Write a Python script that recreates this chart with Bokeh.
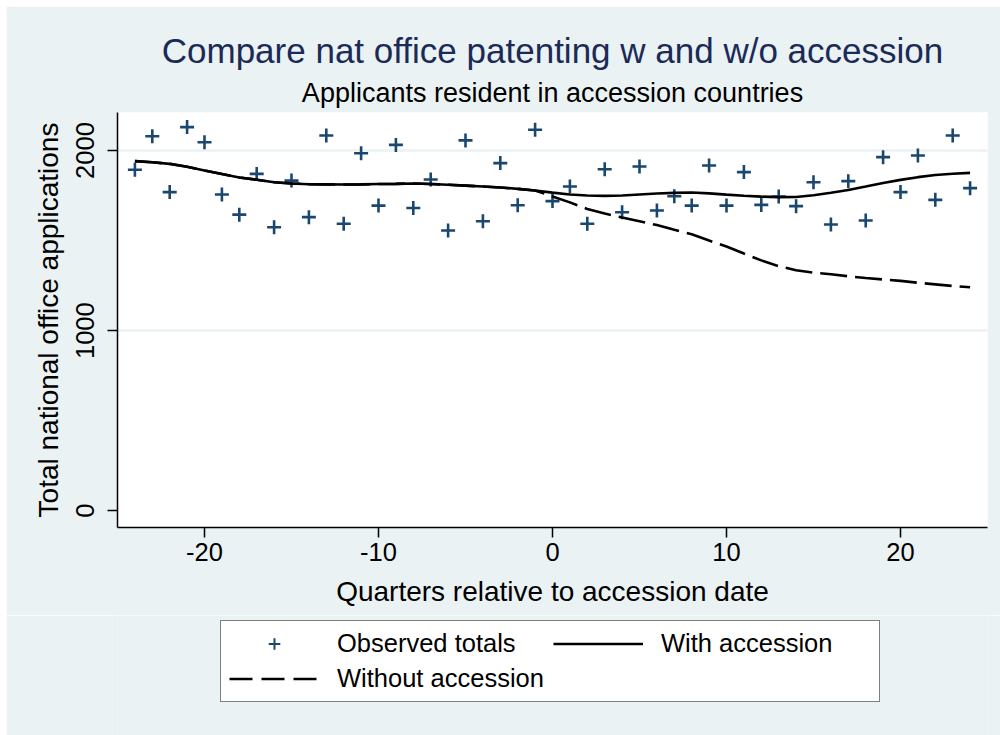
from bokeh.plotting import figure
from bokeh.models import Range1d, FixedTicker, Title, Legend, LegendItem
from bokeh.layouts import column
from bokeh.embed import file_html
from bokeh.resources import INLINE

# ---- data ----
quarters = list(range(-24, 25))
observed = [1893, 2079, 1769, 2130, 2046, 1756, 1644, 1870, 1574, 1833,
            1630, 2083, 1593, 1985, 1694, 2031, 1681, 1839, 1556, 2056,
            1607, 1930, 1696, 2115, 1719, 1800, 1593, 1896, 1657, 1911,
            1667, 1746, 1694, 1917, 1694, 1880, 1698, 1744, 1691, 1824,
            1589, 1830, 1611, 1963, 1769, 1972, 1726, 2083, 1791]
with_accession = [1941, 1935, 1926, 1910, 1889, 1870, 1850, 1838, 1824, 1817,
                  1813, 1812, 1811, 1812, 1814, 1815, 1817, 1814, 1810, 1805,
                  1800, 1795, 1787, 1778, 1766, 1756, 1750, 1748, 1750, 1756,
                  1761, 1765, 1767, 1762, 1755, 1749, 1744, 1741, 1742, 1752,
                  1765, 1781, 1800, 1820, 1837, 1852, 1864, 1871, 1876]
without_accession = [1941, 1935, 1926, 1910, 1889, 1870, 1850, 1838, 1824, 1817,
                     1813, 1812, 1811, 1812, 1814, 1815, 1817, 1814, 1810, 1805,
                     1800, 1795, 1787, 1778, 1745, 1712, 1675, 1650, 1628, 1607,
                     1586, 1560, 1535, 1500, 1467, 1428, 1390, 1358, 1335, 1322,
                     1313, 1302, 1292, 1284, 1276, 1266, 1257, 1248, 1241]
x_ticks = [-20, -10, 0, 10, 20]
x_tick_labels = ["-20", "-10", "0", "10", "20"]
y_ticks = [0, 1000, 2000]
y_tick_labels = ["0", "1000", "2000"]
grid_ticks = [1000, 2000]

title_text = "Compare nat office patenting w and w/o accession"
subtitle_text = "Applicants resident in accession countries"
x_label = "Quarters relative to accession date"
y_label = "Total national office applications"
legend_labels = ["Observed totals", "With accession", "Without accession"]

FONT = "Liberation Sans"
BG = "#EAF2F3"
NAVY = "#1A476F"

# ---------------- main plot ----------------
p = figure(frame_width=870, frame_height=415, output_backend="svg",
           toolbar_location=None, title=None,
           x_range=Range1d(-25, 25), y_range=Range1d(-93, 2211),
           min_border_left=111, min_border_right=13, min_border_top=106,
           min_border_bottom=88)
p.background_fill_color = "white"
p.border_fill_color = BG
p.outline_line_color = None

sub = Title(text=subtitle_text, align="center", text_font=FONT,
            text_font_size="27px", text_font_style="normal", text_color="black",
            standoff=9)
p.add_layout(sub, "above")
ttl = Title(text=title_text, align="center", text_font=FONT,
            text_font_size="35px", text_font_style="normal", text_color="#1C2A57",
            standoff=4)
p.add_layout(ttl, "above")

for ax in (p.xaxis[0], p.yaxis[0]):
    ax.axis_line_color = "black"
    ax.axis_line_width = 1.5
    ax.major_tick_line_color = "black"
    ax.major_tick_line_width = 1.5
    ax.major_tick_out = 10
    ax.major_tick_in = 0
    ax.minor_tick_line_color = None
    ax.major_label_text_font = FONT
    ax.major_label_text_font_size = "25.5px"
    ax.major_label_text_color = "black"
    ax.axis_label_text_font = FONT
    ax.axis_label_text_font_size = "28px"
    ax.axis_label_text_font_style = "normal"
    ax.axis_label_text_color = "black"

p.xaxis.ticker = FixedTicker(ticks=x_ticks)
p.xaxis.major_label_overrides = dict(zip(x_ticks, x_tick_labels))
p.xaxis.axis_label_standoff = 12
p.yaxis.ticker = FixedTicker(ticks=y_ticks)
p.yaxis.major_label_overrides = dict(zip(y_ticks, y_tick_labels))
p.yaxis.major_label_orientation = "vertical"
p.yaxis.major_label_standoff = 13
p.yaxis.axis_label_standoff = 10
p.xaxis.axis_label = x_label
p.yaxis.axis_label = y_label

p.xgrid.grid_line_color = None
p.ygrid.ticker = FixedTicker(ticks=grid_ticks)
p.ygrid.grid_line_color = BG
p.ygrid.grid_line_width = 2.5

p.scatter(quarters, observed, marker="cross", size=14,
          line_color=NAVY, line_width=2.6)
p.line(quarters, with_accession, line_color="black", line_width=2.6)
p.line(quarters, without_accession, line_color="black",
       line_width=2.6, line_dash="27 8")

# ---------------- legend strip (below the graph) ----------------
lg = figure(frame_width=870, frame_height=120, output_backend="svg",
            toolbar_location=None, title=None,
            min_border_left=111, min_border_right=13,
            min_border_top=0, min_border_bottom=0,
            x_axis_type=None, y_axis_type=None)
lg.background_fill_color = BG
lg.border_fill_color = BG
lg.outline_line_color = None
lg.grid.visible = False

k_obs = lg.scatter(quarters, observed, marker="cross", size=9,
                   line_color=NAVY, line_width=2, visible=False)
k_with = lg.line(quarters, with_accession, line_color="black",
                 line_width=2.6, visible=False)
k_without = lg.line(quarters, without_accession, line_color="black",
                    line_width=2.6, line_dash="23 9", visible=False)

legend = Legend(items=[LegendItem(label=legend_labels[0], renderers=[k_obs]),
                       LegendItem(label=legend_labels[2], renderers=[k_without]),
                       LegendItem(label=legend_labels[1], renderers=[k_with])],
                orientation="vertical", ncols=2, click_policy="none",
                location=(103, 33),
                label_text_font=FONT, label_text_font_size="25.5px",
                label_text_color="black",
                glyph_width=90, glyph_height=29, label_height=29,
                label_width=210, label_standoff=18, spacing=6, padding=8,
                margin=0,
                border_line_color="black", border_line_width=1.5,
                background_fill_color="white", background_fill_alpha=1.0)
lg.add_layout(legend, "center")

page = column(p, lg, spacing=0)
page.styles = {"margin-left": "6px", "margin-top": "6px"}

open("out.html", "w").write(file_html(page, INLINE))
